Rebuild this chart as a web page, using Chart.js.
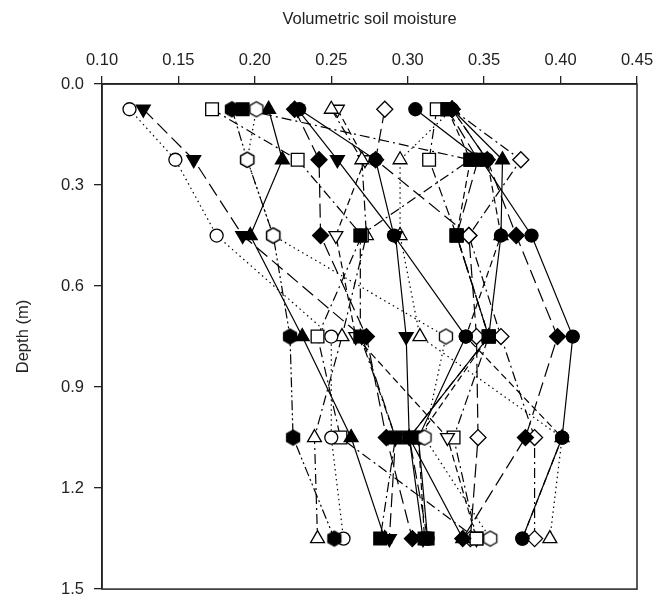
<!DOCTYPE html>
<html>
<head>
<meta charset="utf-8">
<script src="https://cdn.jsdelivr.net/npm/chart.js@4"></script>
<style>
  html, body { margin: 0; padding: 0; background: #fff; overflow: hidden; }
</style>
</head>
<body>
<canvas id="graph" width="669" height="609"></canvas>
<script>
// depths (m) of the six measurement layers
const depths = [0.075, 0.225, 0.45, 0.75, 1.05, 1.35];

// volumetric soil moisture per profile, one value per depth
const profile01 = [0.118, 0.148, 0.175, 0.250, 0.250, 0.258];
const profile02 = [0.127, 0.160, 0.192, 0.270, 0.292, 0.288];
const profile03 = [0.172, 0.228, 0.270, 0.241, 0.256, 0.345];
const profile04 = [0.185, 0.195, 0.212, 0.223, 0.225, 0.252];
const profile05 = [0.192, 0.341, 0.269, 0.269, 0.292, 0.282];
const profile06 = [0.201, 0.195, 0.212, 0.325, 0.311, 0.354];
const profile07 = [0.209, 0.218, 0.197, 0.231, 0.263, 0.285];
const profile08 = [0.226, 0.242, 0.243, 0.273, 0.286, 0.303];
const profile09 = [0.229, 0.279, 0.291, 0.338, 0.307, 0.313];
const profile10 = [0.250, 0.270, 0.273, 0.257, 0.239, 0.241];
const profile11 = [0.254, 0.272, 0.253, 0.266, 0.326, 0.345];
const profile12 = [0.285, 0.279, 0.340, 0.345, 0.346, 0.341];
const profile13 = [0.305, 0.348, 0.381, 0.408, 0.401, 0.375];
const profile14 = [0.319, 0.314, 0.332, 0.353, 0.330, 0.345];
const profile15 = [0.329, 0.362, 0.361, 0.353, 0.301, 0.336];
const profile16 = [0.329, 0.352, 0.371, 0.398, 0.377, 0.336];
const profile17 = [0.329, 0.374, 0.340, 0.361, 0.383, 0.383];
const profile18 = [0.329, 0.295, 0.295, 0.308, 0.401, 0.393];
const profile19 = [0.326, 0.341, 0.332, 0.353, 0.307, 0.311];
const profile20 = [0.329, 0.352, 0.361, 0.338, 0.401, 0.375];
const profile21 = [0.228, 0.254, 0.292, 0.299, 0.301, 0.310];
const profile22 = [0.326, 0.346, 0.332, 0.353, 0.301, 0.313];

const profiles = [profile01, profile02, profile03, profile04, profile05, profile06, profile07,
	profile08, profile09, profile10, profile11, profile12, profile13, profile14, profile15,
	profile16, profile17, profile18, profile19, profile20, profile21, profile22];

// line patterns
const solid = [];
const dashed = [7, 4];
const longDash = [14, 6];
const dotted = [1.5, 3.5];
const dashDot = [10, 4, 2, 4];
const dashDotDot = [10, 3, 2, 3, 2, 3];

function hexagon(filled) {
	const c = document.createElement("canvas");
	c.width = 18;
	c.height = 18;
	const ctx = c.getContext("2d");
	ctx.beginPath();
	for (let i = 0; i < 6; i++) {
		const a = Math.PI / 6 + i * Math.PI / 3;
		const px = 9 + Math.cos(a) * 7.5;
		const py = 9 + Math.sin(a) * 7.5;
		if (i === 0) ctx.moveTo(px, py); else ctx.lineTo(px, py);
	}
	ctx.closePath();
	ctx.fillStyle = filled ? "#000" : "#fff";
	ctx.fill();
	ctx.lineWidth = 1.3;
	ctx.strokeStyle = "#000";
	ctx.stroke();
	return c;
}

// marker, filled, line pattern for each profile
const styles = [
	["circle", false, dotted],
	["triDown", true, longDash],
	["rect", false, dashDot],
	["hex", true, dashDotDot],
	["rect", true, dashDot],
	["hex", false, dotted],
	["triangle", true, solid],
	["rectRot", true, longDash],
	["circle", true, solid],
	["triangle", false, dashDot],
	["triDown", false, dashed],
	["rectRot", false, longDash],
	["circle", true, solid],
	["rect", false, dashDot],
	["triangle", true, solid],
	["rectRot", true, longDash],
	["rectRot", false, dashDot],
	["triangle", false, dotted],
	["rect", true, dashed],
	["circle", true, dashed],
	["triDown", true, solid],
	["rect", true, longDash],
];

const sizes = { circle: 6.5, rect: 9, rectRot: 8, triangle: 8, triDown: 8, hex: 8 };

const datasets = profiles.map((values, i) => {
	const [marker, filled, dash] = styles[i];
	let pointStyle = marker;
	let rotation = 0;
	if (marker === "triDown") { pointStyle = "triangle"; rotation = 180; }
	if (marker === "hex") pointStyle = hexagon(filled);
	// open markers sit under the filled ones, except the open hexagon
	let order = filled ? 0 : 1;
	if (marker === "hex" && !filled) order = -1;
	return {
		label: "Profile " + (i + 1),
		data: values.map((v, j) => ({ x: v, y: depths[j] })),
		order: order,
		showLine: true,
		borderColor: "#000",
		borderWidth: 1.2,
		borderDash: dash,
		pointStyle: pointStyle,
		pointRotation: rotation,
		pointRadius: sizes[marker],
		pointHoverRadius: sizes[marker],
		pointBackgroundColor: filled ? "#000" : "#fff",
		pointBorderColor: "#000",
		pointBorderWidth: 1.3,
	};
});

const frame = {
	id: "frame",
	afterDraw(chart) {
		const a = chart.chartArea;
		const ctx = chart.ctx;
		ctx.save();
		ctx.strokeStyle = "#222";
		ctx.lineWidth = 1.5;
		ctx.strokeRect(a.left, a.top, a.right - a.left, a.bottom - a.top);
		ctx.restore();
	},
};

const font = { family: "'Liberation Sans', Arial, sans-serif", size: 16.5 };

new Chart(document.getElementById("graph"), {
	type: "scatter",
	data: { datasets: datasets },
	plugins: [frame],
	options: {
		responsive: false,
		animation: false,
		devicePixelRatio: 1,
		layout: { padding: { left: 10, top: 8, right: 32, bottom: 5 } },
		plugins: { legend: { display: false }, tooltip: { enabled: false } },
		scales: {
			x: {
				type: "linear",
				position: "top",
				min: 0.1,
				max: 0.45,
				afterFit: (scale) => { scale.height = 76; },
				ticks: {
					stepSize: 0.05,
					color: "#222",
					font: font,
					padding: 6,
					callback: (v) => v.toFixed(2),
				},
				grid: { drawOnChartArea: false, tickLength: 8, color: "#222", lineWidth: 1.3 },
				border: { color: "#222", width: 1.5 },
				title: { display: true, text: "Volumetric soil moisture", color: "#222", font: font, padding: { top: 2, bottom: 4 } },
			},
			y: {
				type: "linear",
				reverse: true,
				min: 0,
				max: 1.5,
				afterFit: (scale) => { scale.width = 92; },
				ticks: {
					stepSize: 0.3,
					color: "#222",
					font: font,
					padding: 10,
					callback: (v) => v.toFixed(1),
				},
				grid: { drawOnChartArea: false, tickLength: 8, color: "#222", lineWidth: 1.3 },
				border: { color: "#222", width: 1.5 },
				title: { display: true, text: "Depth (m)", color: "#222", font: font, padding: { top: 4, bottom: 4 } },
			},
		},
	},
});
</script>
</body>
</html>
